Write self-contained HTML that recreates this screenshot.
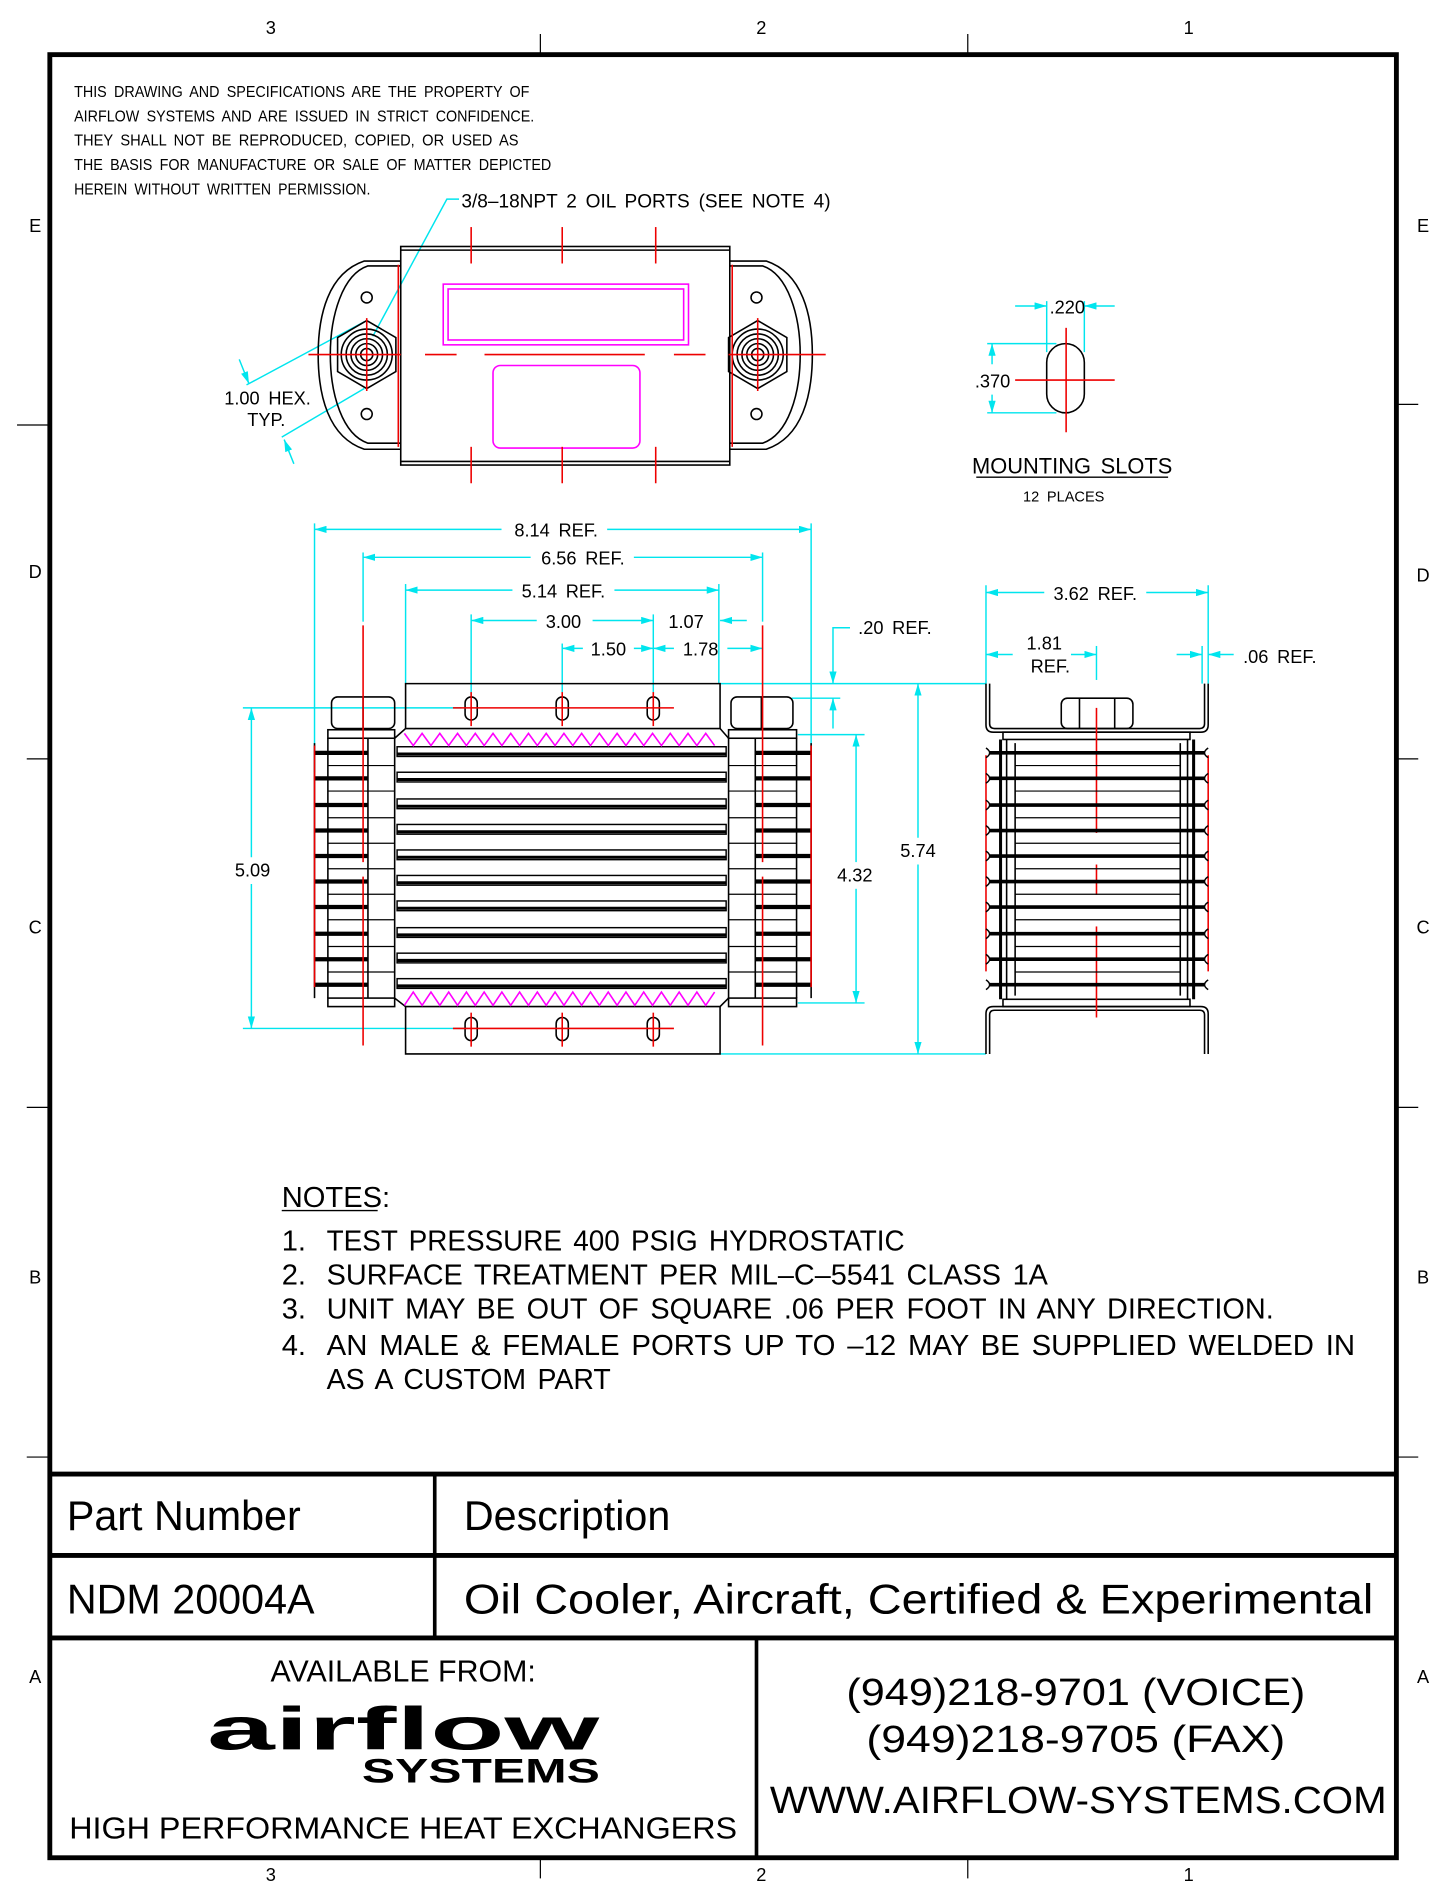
<!DOCTYPE html>
<html><head><meta charset="utf-8"><style>
html,body{margin:0;padding:0;background:#fff}
svg{display:block}
.cad{font-family:"Liberation Sans Narrow","Liberation Sans",sans-serif;fill:#000;word-spacing:3px}
.tb{font-family:"Liberation Sans",sans-serif;fill:#000}
</style></head><body>
<svg id="s" xmlns="http://www.w3.org/2000/svg" width="1445" height="1896" viewBox="0 0 1190 1561.5">
<defs>
<marker id="a" viewBox="0 0 10 6" refX="10" refY="3" markerWidth="10" markerHeight="6" markerUnits="userSpaceOnUse" orient="auto-start-reverse"><path d="M0,0 L10,3 L0,6 z" fill="#00e5ee"/></marker>
</defs>
<rect width="1190" height="1561.5" fill="#fff"/>
<rect x="41" y="45" width="1109" height="1485" fill="none" stroke="#000" stroke-width="4"/>
<g stroke="#000" stroke-width="1">
<line x1="445" y1="28" x2="445" y2="45"/><line x1="797" y1="28" x2="797" y2="45"/>
<line x1="445" y1="1530" x2="445" y2="1547"/><line x1="797" y1="1530" x2="797" y2="1547"/>
<line x1="14" y1="350" x2="41" y2="350"/><line x1="22" y1="625" x2="41" y2="625"/><line x1="22" y1="912" x2="41" y2="912"/><line x1="22" y1="1200" x2="41" y2="1200"/>
<line x1="1150" y1="333" x2="1168" y2="333"/><line x1="1150" y1="625" x2="1168" y2="625"/><line x1="1150" y1="912" x2="1168" y2="912"/><line x1="1150" y1="1200" x2="1168" y2="1200"/>
</g>
<g class="cad" font-size="15" text-anchor="middle">
<text x="223" y="28">3</text><text x="627" y="28">2</text><text x="979" y="28">1</text>
<text x="223" y="1549">3</text><text x="627" y="1549">2</text><text x="979" y="1549">1</text>
<text x="29" y="191">E</text><text x="29" y="476">D</text><text x="29" y="769">C</text><text x="29" y="1057">B</text><text x="29" y="1386">A</text>
<text x="1172" y="191">E</text><text x="1172" y="479">D</text><text x="1172" y="769">C</text><text x="1172" y="1057">B</text><text x="1172" y="1386">A</text>
</g>
<g class="cad" font-size="13">
<text x="61" y="80" textLength="375" lengthAdjust="spacingAndGlyphs">THIS DRAWING AND SPECIFICATIONS ARE THE PROPERTY OF</text>
<text x="61" y="100" textLength="379" lengthAdjust="spacingAndGlyphs">AIRFLOW SYSTEMS AND ARE ISSUED IN STRICT CONFIDENCE.</text>
<text x="61" y="120" textLength="366" lengthAdjust="spacingAndGlyphs">THEY SHALL NOT BE REPRODUCED, COPIED, OR USED AS</text>
<text x="61" y="140" textLength="393" lengthAdjust="spacingAndGlyphs">THE BASIS FOR MANUFACTURE OR SALE OF MATTER DEPICTED</text>
<text x="61" y="160" textLength="244" lengthAdjust="spacingAndGlyphs">HEREIN WITHOUT WRITTEN PERMISSION.</text>
<text x="380" y="171" font-size="16" textLength="304" lengthAdjust="spacingAndGlyphs">3/8–18NPT 2 OIL PORTS (SEE NOTE 4)</text>
<text x="256" y="333" font-size="15" text-anchor="end">1.00 HEX.</text>
<text x="235" y="351" font-size="15" text-anchor="end">TYP.</text>
</g>
<g stroke="#00e5ee" stroke-width="1.2" fill="none">
<polyline points="378,164 368,164 307,277"/>
<line x1="203" y1="317" x2="300" y2="265"/>
<line x1="232" y1="360" x2="300" y2="320"/>
<line x1="197" y1="296" x2="205" y2="316" marker-end="url(#a)"/>
<line x1="242" y1="382" x2="234" y2="362" marker-end="url(#a)"/>
</g>
<g fill="none" stroke="#000" stroke-width="1.3">
<rect x="330" y="203" width="271" height="180"/>
<line x1="330" y1="206" x2="601" y2="206"/><line x1="330" y1="380" x2="601" y2="380"/>
<path d="M330,215 L300,215 C270,225 262,260 262,292 C262,325 270,360 300,370 L330,370"/>
<path d="M330,219 L303,219 C282,226 272,260 272,292 C272,325 282,358 303,365 L330,365"/>
<path d="M601,215 L631,215 C661,225 669,260 669,292 C669,325 661,360 631,370 L601,370"/>
<path d="M601,219 L628,219 C649,226 659,260 659,292 C659,325 649,358 628,365 L601,365"/>
<circle cx="302" cy="245" r="4.5"/><circle cx="302" cy="341" r="4.5"/>
<circle cx="623" cy="245" r="4.5"/><circle cx="623" cy="341" r="4.5"/>
<polygon points="302,264 326,278 326,306 302,320 278,306 278,278"/>
<polygon points="624,264 648,278 648,306 624,320 600,306 600,278"/>
<circle cx="302" cy="292" r="21"/><circle cx="302" cy="292" r="17"/><circle cx="302" cy="292" r="13"/><circle cx="302" cy="292" r="9"/><circle cx="302" cy="292" r="5"/>
<circle cx="624" cy="292" r="21"/><circle cx="624" cy="292" r="17"/><circle cx="624" cy="292" r="13"/><circle cx="624" cy="292" r="9"/><circle cx="624" cy="292" r="5"/>
</g>
<g fill="none" stroke="#ff00ff" stroke-width="1.3">
<rect x="365" y="234" width="202" height="50"/><rect x="369" y="238" width="194" height="42"/>
<rect x="406" y="301" width="121" height="68" rx="6"/>
</g>
<g stroke="#e00" stroke-width="1.3">
<line x1="254" y1="292" x2="330" y2="292"/><line x1="350" y1="292" x2="376" y2="292"/><line x1="399" y1="292" x2="531" y2="292"/><line x1="555" y1="292" x2="581" y2="292"/><line x1="600" y1="292" x2="680" y2="292"/>
<line x1="302" y1="262" x2="302" y2="322"/><line x1="624" y1="262" x2="624" y2="322"/>
<line x1="388" y1="187" x2="388" y2="217"/><line x1="463" y1="187" x2="463" y2="217"/><line x1="540" y1="187" x2="540" y2="217"/>
<line x1="388" y1="368" x2="388" y2="398"/><line x1="463" y1="368" x2="463" y2="398"/><line x1="540" y1="368" x2="540" y2="398"/>
<line x1="328" y1="218" x2="328" y2="368"/><line x1="603" y1="218" x2="603" y2="368"/>
</g>
<rect x="862" y="283" width="31" height="57" rx="15.5" fill="none" stroke="#000" stroke-width="1.3"/>
<g stroke="#e00" stroke-width="1.3"><line x1="836" y1="313" x2="918" y2="313"/><line x1="878" y1="270" x2="878" y2="356"/></g>
<g stroke="#00e5ee" stroke-width="1.2" fill="none">
<line x1="862" y1="248" x2="862" y2="290"/><line x1="893" y1="248" x2="893" y2="290"/>
<line x1="836" y1="252" x2="862" y2="252" marker-end="url(#a)"/><line x1="918" y1="252" x2="893" y2="252" marker-end="url(#a)"/>
<line x1="813" y1="283" x2="870" y2="283"/><line x1="813" y1="340" x2="870" y2="340"/>
<line x1="817" y1="300" x2="817" y2="283" marker-end="url(#a)"/><line x1="817" y1="325" x2="817" y2="340" marker-end="url(#a)"/>
</g>
<g class="cad" font-size="15">
<text x="879" y="258" text-anchor="middle">.220</text>
<text x="832" y="319" text-anchor="end">.370</text>
<text x="883" y="390" font-size="18" text-anchor="middle">MOUNTING SLOTS</text>
<text x="876" y="413" font-size="12" text-anchor="middle">12 PLACES</text>
</g>
<line x1="804" y1="393" x2="962" y2="393" stroke="#000" stroke-width="1.2"/>
<g stroke="#00e5ee" stroke-width="1.2" fill="none">
<line x1="259" y1="431" x2="259" y2="636"/><line x1="668" y1="431" x2="668" y2="636"/>
<line x1="299" y1="455" x2="299" y2="512"/><line x1="628" y1="455" x2="628" y2="512"/>
<line x1="334" y1="481" x2="334" y2="563"/><line x1="592" y1="481" x2="592" y2="563"/>
<line x1="388" y1="506" x2="388" y2="575"/><line x1="538" y1="506" x2="538" y2="575"/>
<line x1="463" y1="530" x2="463" y2="575"/>
<line x1="413" y1="436" x2="259" y2="436" marker-end="url(#a)"/><line x1="500" y1="436" x2="668" y2="436" marker-end="url(#a)"/>
<line x1="437" y1="459" x2="299" y2="459" marker-end="url(#a)"/><line x1="522" y1="459" x2="628" y2="459" marker-end="url(#a)"/>
<line x1="422" y1="486" x2="334" y2="486" marker-end="url(#a)"/><line x1="506" y1="486" x2="592" y2="486" marker-end="url(#a)"/>
<line x1="442" y1="511" x2="388" y2="511" marker-end="url(#a)"/><line x1="488" y1="511" x2="538" y2="511" marker-end="url(#a)"/>
<line x1="615" y1="511" x2="593" y2="511" marker-end="url(#a)"/>
<line x1="480" y1="534" x2="463" y2="534" marker-end="url(#a)"/><line x1="522" y1="534" x2="538" y2="534" marker-end="url(#a)"/>
<line x1="555" y1="534" x2="538" y2="534" marker-end="url(#a)"/><line x1="599" y1="534" x2="628" y2="534" marker-end="url(#a)"/>
<polyline points="700,517 686,517 686,563" marker-end="url(#a)"/>
<line x1="686" y1="600" x2="686" y2="575" marker-end="url(#a)"/>
<line x1="593" y1="563" x2="812" y2="563"/><line x1="652" y1="575" x2="692" y2="575"/>
<line x1="593" y1="868" x2="812" y2="868"/>
<line x1="200" y1="583" x2="380" y2="583"/><line x1="200" y1="847" x2="385" y2="847"/>
<line x1="207" y1="706" x2="207" y2="583" marker-end="url(#a)"/><line x1="207" y1="728" x2="207" y2="847" marker-end="url(#a)"/>
<line x1="657" y1="605" x2="712" y2="605"/><line x1="657" y1="826" x2="712" y2="826"/>
<line x1="705" y1="710" x2="705" y2="605" marker-end="url(#a)"/><line x1="705" y1="732" x2="705" y2="826" marker-end="url(#a)"/>
<line x1="756" y1="690" x2="756" y2="563" marker-end="url(#a)"/><line x1="756" y1="712" x2="756" y2="868" marker-end="url(#a)"/>
<line x1="812" y1="482" x2="812" y2="563"/><line x1="995" y1="482" x2="995" y2="563"/><line x1="990" y1="532" x2="990" y2="563"/>
<line x1="903" y1="532" x2="903" y2="560"/>
<line x1="860" y1="488" x2="812" y2="488" marker-end="url(#a)"/><line x1="944" y1="488" x2="995" y2="488" marker-end="url(#a)"/>
<line x1="834" y1="539" x2="812" y2="539" marker-end="url(#a)"/><line x1="882" y1="539" x2="903" y2="539" marker-end="url(#a)"/>
<line x1="969" y1="539" x2="990" y2="539" marker-end="url(#a)"/><line x1="1016" y1="539" x2="995" y2="539" marker-end="url(#a)"/>
</g>
<g class="cad" font-size="15" text-anchor="middle">
<text x="458" y="442">8.14 REF.</text><text x="480" y="465">6.56 REF.</text><text x="464" y="492">5.14 REF.</text>
<text x="464" y="517">3.00</text><text x="565" y="517">1.07</text><text x="501" y="540">1.50</text><text x="577" y="540">1.78</text>
<text x="737" y="522">.20 REF.</text>
<text x="208" y="722">5.09</text><text x="704" y="726">4.32</text><text x="756" y="706">5.74</text>
<text x="902" y="494">3.62 REF.</text><text x="860" y="535">1.81</text><text x="865" y="554">REF.</text><text x="1054" y="546">.06 REF.</text>
</g>
<g fill="none" stroke="#000" stroke-width="1.3">
<path d="M334,600 L334,563 L593,563 L593,600"/>
<path d="M334,829 L334,868 L593,868 L593,829"/>
<rect x="273" y="574" width="52" height="26" rx="5"/><line x1="299" y1="574" x2="299" y2="600"/>
<rect x="602" y="574" width="51" height="26" rx="5"/><line x1="627" y1="574" x2="627" y2="600"/>
<rect x="270" y="601" width="55" height="7"/><rect x="600" y="601" width="56" height="7"/>
<rect x="270" y="822" width="55" height="7"/><rect x="600" y="822" width="56" height="7"/>
<path d="M325,608 L334,600 L593,600 L600,608"/><path d="M325,822 L334,829 L593,829 L600,822"/>
<line x1="259" y1="612" x2="259" y2="822"/><line x1="270" y1="608" x2="270" y2="822"/><line x1="303" y1="608" x2="303" y2="822"/><line x1="325" y1="608" x2="325" y2="822"/>
<line x1="668" y1="612" x2="668" y2="822"/><line x1="656" y1="608" x2="656" y2="822"/><line x1="622" y1="608" x2="622" y2="822"/><line x1="600" y1="608" x2="600" y2="822"/>
</g>
<g id="tubes"></g>
<polyline id="zz1" fill="none" stroke="#ff00ff" stroke-width="1.3"/>
<polyline id="zz2" fill="none" stroke="#ff00ff" stroke-width="1.3"/>
<g fill="none" stroke="#000" stroke-width="1.3">
<rect x="383" y="574" width="10" height="19" rx="5"/><rect x="458" y="574" width="10" height="19" rx="5"/><rect x="533" y="574" width="10" height="19" rx="5"/>
<rect x="383" y="838" width="10" height="19" rx="5"/><rect x="458" y="838" width="10" height="19" rx="5"/><rect x="533" y="838" width="10" height="19" rx="5"/>
</g>
<g stroke="#e00" stroke-width="1.3">
<line x1="373" y1="583" x2="555" y2="583"/><line x1="373" y1="847" x2="555" y2="847"/>
<line x1="388" y1="570" x2="388" y2="598"/><line x1="463" y1="570" x2="463" y2="598"/><line x1="538" y1="570" x2="538" y2="598"/>
<line x1="388" y1="834" x2="388" y2="862"/><line x1="463" y1="834" x2="463" y2="862"/><line x1="538" y1="834" x2="538" y2="862"/>
<line x1="299" y1="515" x2="299" y2="710"/><line x1="299" y1="722" x2="299" y2="861"/>
<line x1="628" y1="515" x2="628" y2="710"/><line x1="628" y1="722" x2="628" y2="861"/>
<line x1="259" y1="614" x2="259" y2="813"/><line x1="668" y1="614" x2="668" y2="813"/>
</g>
<g fill="none" stroke="#000" stroke-width="1.3">
<path d="M812,563 L812,597 Q812,603 818,603 L989,603 Q995,603 995,597 L995,563"/>
<path d="M815,563 L815,596 Q815,600 819,600 L988,600 Q992,600 992,596 L992,563"/>
<path d="M812,868 L812,835 Q812,829 818,829 L989,829 Q995,829 995,835 L995,868"/>
<path d="M815,868 L815,836 Q815,832 819,832 L988,832 Q992,832 992,836 L992,868"/>
<rect x="874" y="575" width="59" height="25" rx="5"/><line x1="889" y1="575" x2="889" y2="600"/><line x1="918" y1="575" x2="918" y2="600"/>
<rect x="826" y="603" width="154" height="6"/><rect x="826" y="823" width="154" height="6"/>
<line x1="824" y1="609" x2="824" y2="823" stroke-width="2.5"/><line x1="983" y1="609" x2="983" y2="823" stroke-width="2.5"/>
<line x1="829" y1="609" x2="829" y2="823"/><line x1="978" y1="609" x2="978" y2="823"/>
<line x1="836" y1="612" x2="836" y2="820"/><line x1="972" y1="612" x2="972" y2="820"/>
</g>
<g stroke="#e00" stroke-width="1.3">
<line x1="903" y1="583" x2="903" y2="686"/><line x1="903" y1="712" x2="903" y2="737"/><line x1="903" y1="763" x2="903" y2="838"/>
<line x1="812" y1="622" x2="812" y2="800"/><line x1="995" y1="622" x2="995" y2="800"/>
</g>
<g id="sidetubes"></g>
<g class="cad" font-size="24">
<text x="232" y="994">NOTES:</text>
<text x="232" y="1030">1.</text><text x="269" y="1030" textLength="476" lengthAdjust="spacingAndGlyphs">TEST PRESSURE 400 PSIG HYDROSTATIC</text>
<text x="232" y="1058">2.</text><text x="269" y="1058" textLength="594" lengthAdjust="spacingAndGlyphs">SURFACE TREATMENT PER MIL–C–5541 CLASS 1A</text>
<text x="232" y="1086">3.</text><text x="269" y="1086" textLength="780" lengthAdjust="spacingAndGlyphs">UNIT MAY BE OUT OF SQUARE .06 PER FOOT IN ANY DIRECTION.</text>
<text x="232" y="1116">4.</text><text x="269" y="1116" textLength="847" lengthAdjust="spacingAndGlyphs">AN MALE &amp; FEMALE PORTS UP TO –12 MAY BE SUPPLIED WELDED IN</text>
<text x="269" y="1144" textLength="234" lengthAdjust="spacingAndGlyphs">AS A CUSTOM PART</text>
</g>
<line x1="232" y1="997" x2="311" y2="997" stroke="#000" stroke-width="1.2"/>
<g stroke="#000" stroke-width="4">
<line x1="41" y1="1214" x2="1150" y2="1214"/><line x1="41" y1="1281" x2="1150" y2="1281"/><line x1="41" y1="1349" x2="1150" y2="1349"/>
<line x1="358" y1="1214" x2="358" y2="1349" stroke-width="3"/><line x1="623" y1="1349" x2="623" y2="1530" stroke-width="3"/>
</g>
<g class="tb" font-size="34">
<text x="55" y="1260">Part Number</text><text x="382" y="1260">Description</text>
<text x="55" y="1329">NDM 20004A</text><text x="382" y="1329" textLength="749" lengthAdjust="spacingAndGlyphs">Oil Cooler, Aircraft, Certified &amp; Experimental</text>
</g>
<g class="tb" text-anchor="middle">
<text x="332" y="1385" font-size="25">AVAILABLE FROM:</text>
<text x="332" y="1441" font-size="50" font-weight="bold" textLength="323" lengthAdjust="spacingAndGlyphs">airflow</text>
<text x="396" y="1468" font-size="28" font-weight="bold" textLength="196" lengthAdjust="spacingAndGlyphs">SYSTEMS</text>
<text x="332" y="1514" font-size="25" textLength="550" lengthAdjust="spacingAndGlyphs">HIGH PERFORMANCE HEAT EXCHANGERS</text>
<text x="886" y="1404" font-size="31" textLength="378" lengthAdjust="spacingAndGlyphs">(949)218-9701  (VOICE)</text>
<text x="886" y="1443" font-size="31" textLength="345" lengthAdjust="spacingAndGlyphs">(949)218-9705  (FAX)</text>
<text x="888" y="1493" font-size="31" textLength="508" lengthAdjust="spacingAndGlyphs">WWW.AIRFLOW-SYSTEMS.COM</text>
</g>
<script>
(function(){
var NS="http://www.w3.org/2000/svg";
function el(p,t,a){var e=document.createElementNS(NS,t);for(var k in a)e.setAttribute(k,a[k]);p.appendChild(e);return e;}
var ys=[620,641,663,684,705,726,747,769,790,811];
var g=document.getElementById("tubes"),sg=document.getElementById("sidetubes");
ys.forEach(function(y,i){
 el(g,"line",{x1:259,y1:y,x2:303,y2:y,stroke:"#000","stroke-width":3.5});
 el(g,"line",{x1:622,y1:y,x2:668,y2:y,stroke:"#000","stroke-width":3.5});
 el(g,"rect",{x:327,y:y-5,width:271,height:8,fill:"none",stroke:"#000","stroke-width":1.2});
 el(g,"line",{x1:327,y1:y+1,x2:598,y2:y+1,stroke:"#000","stroke-width":2.5});
 var m=y+10.5;
 if(i<9){el(g,"line",{x1:270,y1:m,x2:325,y2:m,stroke:"#000","stroke-width":1});
 el(g,"line",{x1:600,y1:m,x2:656,y2:m,stroke:"#000","stroke-width":1});
 el(sg,"line",{x1:836,y1:m,x2:972,y2:m,stroke:"#000","stroke-width":1});}
 el(sg,"line",{x1:815,y1:y,x2:992,y2:y,stroke:"#000","stroke-width":3});
 el(sg,"path",{d:"M812,"+(y-4)+" Q818,"+y+" 812,"+(y+4),fill:"none",stroke:"#000","stroke-width":1.2});
 el(sg,"path",{d:"M995,"+(y-4)+" Q989,"+y+" 995,"+(y+4),fill:"none",stroke:"#000","stroke-width":1.2});
});
function zz(id,y1,y2){var p=[];for(var x=333,k=0;x<=595;x+=7.3,k++)p.push(x+","+(k%2?y2:y1));document.getElementById(id).setAttribute("points",p.join(" "));}
zz("zz1",604,614);zz("zz2",828,817);
})();
</script>
</svg>
</body></html>
